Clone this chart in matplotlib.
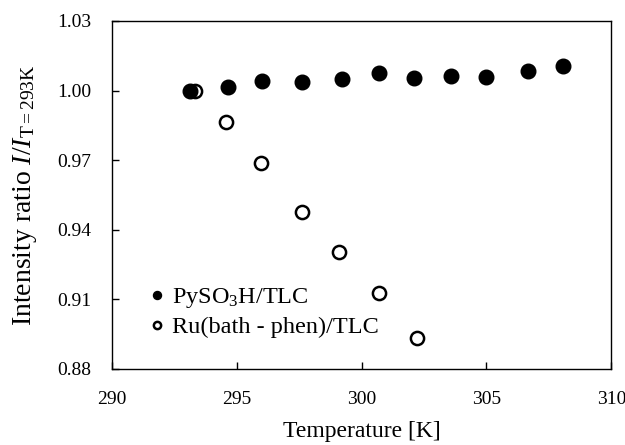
import matplotlib
matplotlib.use("Agg")
import matplotlib.pyplot as plt

plt.rcParams['font.family'] = ['Liberation Serif', 'DejaVu Serif']
plt.rcParams['mathtext.fontset'] = 'custom'
plt.rcParams['mathtext.rm'] = 'Liberation Serif'
plt.rcParams['mathtext.it'] = 'Liberation Serif:italic'

temp_py = [293.12, 294.64, 296.01, 297.61, 299.21, 300.69, 302.09, 303.59, 304.97, 306.65, 308.05]
ratio_py = [1.0000, 1.0016, 1.0043, 1.0038, 1.0049, 1.0077, 1.0053, 1.0063, 1.0060, 1.0083, 1.0106]

temp_ru = [293.32, 294.56, 295.99, 297.61, 299.09, 300.69, 302.23]
ratio_ru = [1.0000, 0.9865, 0.9687, 0.9478, 0.9303, 0.9129, 0.8932]

x_ticks = [290, 295, 300, 305, 310]
y_ticks = [0.88, 0.91, 0.94, 0.97, 1.00, 1.03]

fig = plt.figure(figsize=(6.25, 4.45), dpi=100)
ax = fig.add_axes([0.179, 0.171, 0.799, 0.782])

ax.plot(temp_ru, ratio_ru, linestyle='none', marker='o', markersize=9.5,
        markerfacecolor='white', markeredgecolor='black', markeredgewidth=1.8,
        label='Ru(bath - phen)/TLC', zorder=3)
ax.plot(temp_py, ratio_py, linestyle='none', marker='o', markersize=10.5,
        markerfacecolor='black', markeredgecolor='black',
        label=r'PySO$_3$H/TLC', zorder=4)

ax.set_xlim(290, 310)
ax.set_ylim(0.88, 1.03)
ax.set_xticks(x_ticks)
ax.set_yticks(y_ticks)
ax.set_xticklabels([str(v) for v in x_ticks])
ax.set_yticklabels([f"{v:.2f}" for v in y_ticks])
ax.tick_params(direction='in', length=5, width=1, labelsize=14)
ax.tick_params(axis='y', pad=15)
ax.tick_params(axis='x', pad=16)

for s in ax.spines.values():
    s.set_linewidth(1.0)

ax.set_xlabel('Temperature [K]', fontsize=17, labelpad=9)
ax.set_ylabel(r'Intensity ratio $I$/$I_{\rm T=293K}$', fontsize=20, labelpad=13)

handles, labels = ax.get_legend_handles_labels()
leg = ax.legend(handles[::-1], labels[::-1], loc='lower left',
                bbox_to_anchor=(0.062, 0.088), frameon=False, fontsize=17.5,
                handletextpad=0.0, handlelength=1.2, markerscale=0.55,
                labelspacing=0.25, borderaxespad=0.0, borderpad=0.0)

fig.savefig('out.png', dpi=100)
